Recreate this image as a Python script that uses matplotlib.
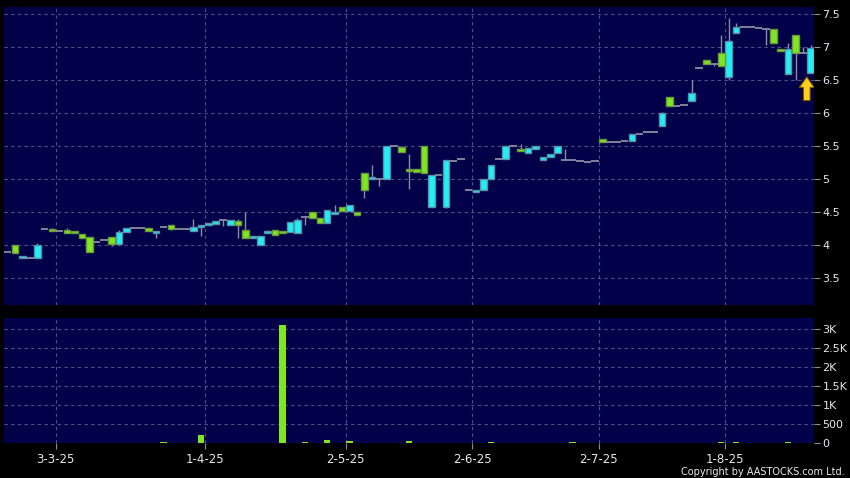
import numpy as np
import matplotlib
matplotlib.use("Agg")
from matplotlib import pyplot as plt
from matplotlib.patches import FancyArrow

# daily candles (open, high, low, close)
opens = [3.89, 4.00, 3.80, 3.80, 3.80, 4.25, 4.24, 4.21, 4.23, 4.21,
         4.17, 4.12, 4.05, 4.08, 4.12, 4.02, 4.20, 4.26, 4.26, 4.26,
         4.18, 4.28, 4.30, 4.24, 4.24, 4.21, 4.27, 4.30, 4.32, 4.38,
         4.30, 4.36, 4.23, 4.11, 4.00, 4.18, 4.23, 4.21, 4.20, 4.18,
         4.43, 4.50, 4.41, 4.34, 4.47, 4.57, 4.52, 4.50, 5.09, 5.00,
         5.00, 5.00, 5.50, 5.48, 5.16, 5.15, 5.50, 4.58, 5.06, 4.57,
         5.28, 5.31, 4.83, 4.80, 4.83, 5.00, 5.31, 5.30, 5.50, 5.46,
         5.40, 5.46, 5.29, 5.33, 5.39, 5.29, 5.29, 5.28, 5.26, 5.28,
         5.61, 5.56, 5.56, 5.58, 5.58, 5.68, 5.72, 5.72, 5.80, 6.24,
         6.11, 6.13, 6.18, 6.68, 6.81, 6.74, 6.91, 6.55, 7.21, 7.30,
         7.30, 7.29, 7.28, 7.27, 6.98, 6.60, 7.18, 6.91, 6.61]
highs = [3.90, 4.00, 3.84, 3.80, 4.03, 4.25, 4.26, 4.21, 4.26, 4.21,
         4.17, 4.12, 4.05, 4.08, 4.12, 4.22, 4.26, 4.26, 4.26, 4.26,
         4.21, 4.29, 4.30, 4.24, 4.24, 4.40, 4.30, 4.33, 4.36, 4.38,
         4.38, 4.40, 4.50, 4.14, 4.14, 4.22, 4.23, 4.21, 4.35, 4.41,
         4.43, 4.50, 4.41, 4.53, 4.61, 4.57, 4.60, 4.50, 5.09, 5.22,
         5.00, 5.50, 5.50, 5.50, 5.38, 5.15, 5.50, 5.06, 5.06, 5.29,
         5.28, 5.31, 4.83, 4.83, 5.00, 5.21, 5.31, 5.50, 5.50, 5.53,
         5.47, 5.50, 5.34, 5.38, 5.50, 5.46, 5.29, 5.28, 5.26, 5.28,
         5.61, 5.56, 5.56, 5.58, 5.68, 5.68, 5.72, 5.72, 6.02, 6.24,
         6.11, 6.13, 6.50, 6.70, 6.81, 6.74, 7.19, 7.44, 7.37, 7.30,
         7.30, 7.29, 7.28, 7.27, 6.98, 7.06, 7.18, 7.01, 7.03]
lows = [3.89, 3.88, 3.80, 3.80, 3.80, 4.25, 4.21, 4.21, 4.18, 4.18,
        4.11, 3.89, 4.05, 4.08, 3.99, 4.02, 4.20, 4.26, 4.26, 4.21,
        4.11, 4.28, 4.22, 4.24, 4.24, 4.21, 4.13, 4.30, 4.32, 4.29,
        4.30, 4.11, 4.11, 4.11, 4.00, 4.18, 4.15, 4.18, 4.20, 4.18,
        4.30, 4.41, 4.34, 4.34, 4.47, 4.51, 4.52, 4.46, 4.71, 5.00,
        4.90, 5.00, 5.50, 5.41, 4.85, 5.10, 5.09, 4.58, 5.06, 4.56,
        5.27, 5.31, 4.83, 4.80, 4.83, 5.00, 5.31, 5.30, 5.50, 5.42,
        5.40, 5.46, 5.29, 5.33, 5.39, 5.29, 5.29, 5.28, 5.26, 5.28,
        5.56, 5.56, 5.56, 5.58, 5.58, 5.68, 5.72, 5.72, 5.80, 6.11,
        6.11, 6.13, 6.18, 6.68, 6.74, 6.72, 6.72, 6.50, 7.21, 7.30,
        7.30, 7.29, 7.03, 7.06, 6.94, 6.60, 6.50, 6.91, 6.61]
closes = [3.89, 3.88, 3.83, 3.80, 4.00, 4.25, 4.21, 4.21, 4.18, 4.18,
          4.11, 3.89, 4.05, 4.08, 4.02, 4.20, 4.26, 4.26, 4.26, 4.21,
          4.21, 4.28, 4.24, 4.24, 4.24, 4.27, 4.30, 4.33, 4.36, 4.38,
          4.38, 4.30, 4.11, 4.14, 4.14, 4.22, 4.15, 4.18, 4.35, 4.38,
          4.43, 4.41, 4.34, 4.53, 4.50, 4.51, 4.60, 4.46, 4.83, 5.03,
          5.00, 5.50, 5.50, 5.41, 5.12, 5.10, 5.09, 5.06, 5.06, 5.29,
          5.28, 5.31, 4.83, 4.83, 5.00, 5.21, 5.31, 5.50, 5.50, 5.42,
          5.47, 5.50, 5.34, 5.38, 5.50, 5.29, 5.29, 5.28, 5.26, 5.28,
          5.56, 5.56, 5.56, 5.58, 5.68, 5.68, 5.72, 5.72, 6.00, 6.11,
          6.11, 6.13, 6.30, 6.68, 6.74, 6.74, 6.72, 7.10, 7.30, 7.30,
          7.30, 7.29, 7.28, 7.06, 6.94, 6.97, 6.91, 6.91, 6.99]

# volume (shares), mostly zero
volume = [0] * len(closes)
vol_days = {11: 15, 15: 15, 16: 15, 19: 12, 21: 35, 22: 15, 26: 220,
            30: 15, 31: 15, 32: 15, 35: 12, 37: 3110, 40: 30, 43: 85,
            46: 70, 48: 12, 50: 12, 51: 12, 54: 60, 58: 15, 65: 30,
            74: 15, 76: 30, 88: 15, 89: 15, 96: 40, 98: 25, 105: 25, 107: 15}
for d, v in vol_days.items():
    volume[d] = v

date_pos = [6.5, 26.5, 45.5, 62.5, 79.5, 96.5]
date_labels = ["3-3-25", "1-4-25", "2-5-25", "2-6-25", "2-7-25", "1-8-25"]
price_ticks = [3.5, 4, 4.5, 5, 5.5, 6, 6.5, 7, 7.5]
vol_ticks = [0, 500, 1000, 1500, 2000, 2500, 3000]
vol_labels = ["0", "500", "1K", "1.5K", "2K", "2.5K", "3K"]

# colours
bg = "#000000"
panel = "#010048"
up_c, up_e = "#1ef0f5", "#5b8ea8"
dn_c, dn_e = "#7ee622", "#6a9a38"
flat_c = "#8c8ca4"
grid_c = "#50508a"
txt_c = "#e8e8e8"

o = np.array(opens)
h = np.array(highs)
l = np.array(lows)
c = np.array(closes)
x = np.arange(len(c))

fig = plt.figure(figsize=(8.5, 4.78), dpi=100, facecolor=bg)
ax = fig.add_axes([4 / 850, 1 - 305 / 478, 810 / 850, 298 / 478])
ax2 = fig.add_axes([4 / 850, 1 - 443.3 / 478, 810 / 850, 125.3 / 478])

for a in (ax, ax2):
    a.set_facecolor(panel)
    for s in a.spines.values():
        s.set_visible(False)
    a.yaxis.tick_right()
    a.set_xlim(-0.47, len(c) - 1 + 0.47)
    a.set_xticks(date_pos)
    a.grid(True, color=grid_c, linestyle=(0, (3, 3)), linewidth=0.8)
    a.set_axisbelow(True)
    a.tick_params(axis="y", colors=flat_c, labelcolor=txt_c, labelsize=8,
                  length=4, pad=2)

# candles
bw = 0.88
ax.vlines(x, l, h, color=flat_c, linewidth=1, zorder=2)
up = c > o
dn = c < o
flat = c == o
ax.bar(x[up], (c - o)[up], bottom=o[up], width=bw, color=up_c,
       edgecolor=up_e, linewidth=1, zorder=3)
ax.bar(x[dn], (o - c)[dn], bottom=c[dn], width=bw, color=dn_c,
       edgecolor=dn_e, linewidth=1, zorder=3)
ax.hlines(c[flat], x[flat] - 0.5, x[flat] + 0.5, color=flat_c,
          linewidth=1.3, zorder=3)

# yellow marker under the last day
ax.add_patch(FancyArrow(x[-1] - 0.5, l[-1] - 0.42, 0, 0.36, width=0.9,
                        head_width=2.0, head_length=0.16,
                        length_includes_head=True, facecolor="#ffcf1e",
                        edgecolor="#7a5800", linewidth=0.8, zorder=4))

ax.set_ylim(3.09, 7.61)
ax.set_yticks(price_ticks)
ax.set_yticklabels([f"{t:g}" for t in price_ticks])
ax.tick_params(axis="x", length=0, labelbottom=False)

ax2.bar(x, volume, width=0.85, color=dn_c, zorder=3)
ax2.set_ylim(0, 3300)
ax2.set_yticks(vol_ticks)
ax2.set_yticklabels(vol_labels)
ax2.set_xticklabels(date_labels)
ax2.tick_params(axis="x", colors=flat_c, labelcolor=txt_c, labelsize=8.5,
                length=4, pad=3)

fig.text(0.994, 0.002, "Copyright by AASTOCKS.com Ltd.", color=txt_c,
         fontsize=7, ha="right", va="bottom")

fig.savefig("out.png", dpi=100, facecolor=bg)
